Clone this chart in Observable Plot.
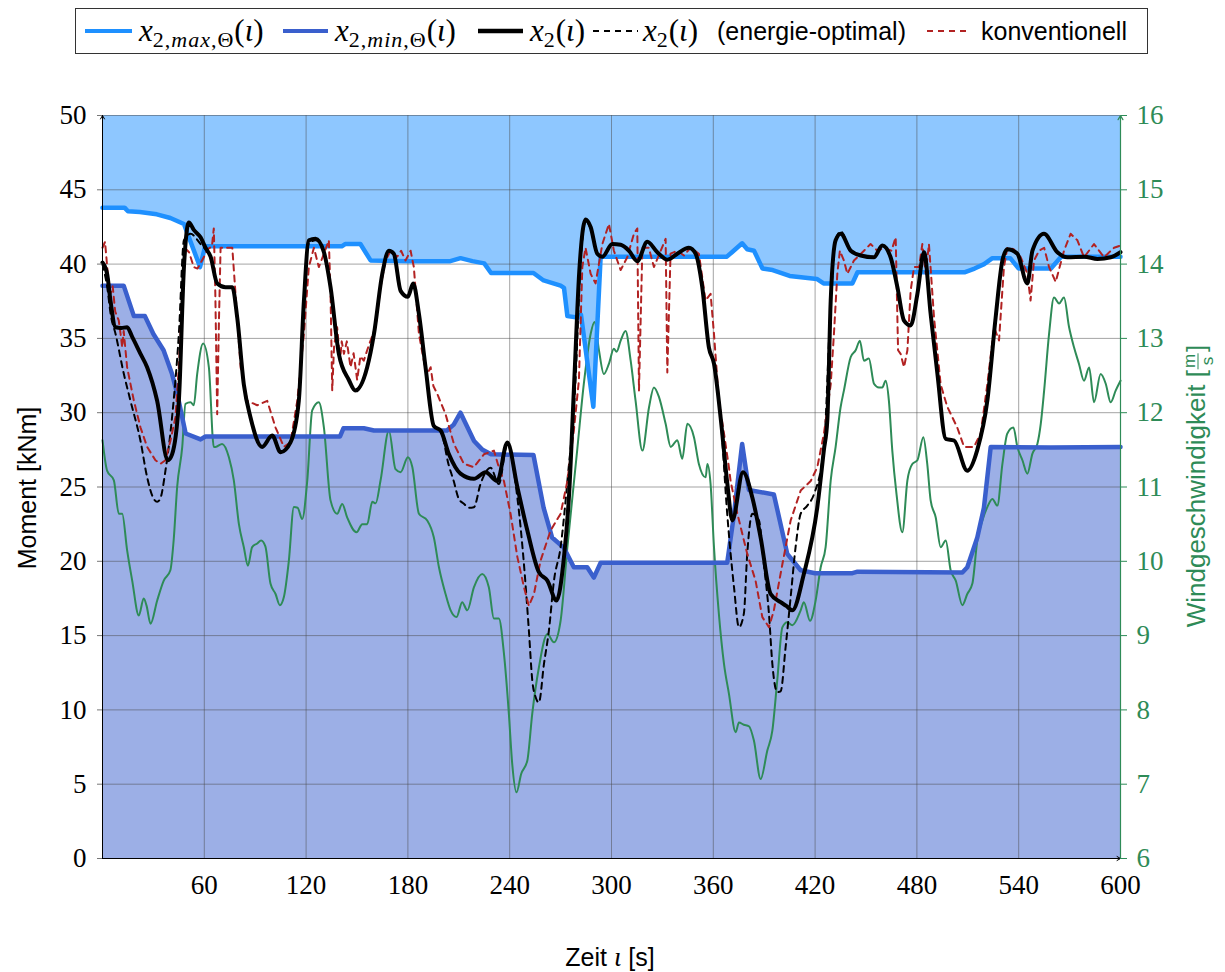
<!DOCTYPE html>
<html>
<head>
<meta charset="utf-8">
<script src="https://cdn.jsdelivr.net/npm/d3@7"></script>
<script src="https://cdn.jsdelivr.net/npm/@observablehq/plot@0.6"></script>
<style>
  body { margin: 0; background: #fff; }
  #page { position: relative; width: 1225px; height: 972px; overflow: hidden; }
  #legendArea { height: 62px; position: relative; }
  #legend { position: absolute; left: 75px; top: 8px; width: 1071px; height: 44px; border: 1px solid #333; background: #fff; }
  .key { position: absolute; top: 15px; }
  .lab { position: absolute; top: 0; line-height: 44px; white-space: nowrap; font-family: "Liberation Sans", Arial, sans-serif; font-size: 25px; color: #000; }
  .m { font-family: "Liberation Serif", serif; font-size: 31px; }
  .m i { font-style: italic; }
  .m sub { font-size: 22px; vertical-align: -6px; line-height: 0; letter-spacing: 1px; }
  .title { position: absolute; white-space: nowrap; font-family: "Liberation Sans", Arial, sans-serif; font-size: 25px; color: #000; transform: translate(-50%, -50%); }
  .rot { transform: translate(-50%, -50%) rotate(-90deg); }
  .frac { display: inline-flex; flex-direction: column; align-items: center; vertical-align: middle; font-size: 17px; line-height: 17px; margin: 0 1px; }
  .frac span:first-child { border-bottom: 1.2px solid currentColor; padding: 0 1px; }
</style>
</head>
<body>
<div id="page">
  <div id="legendArea">
    <div id="legend">
      <svg class="key" style="left:9px" width="47" height="14"><line x1="0" x2="47" y1="7" y2="7" stroke="#1e90ff" stroke-width="4"/></svg>
      <div class="lab m" style="left:63px"><i>x</i><sub>2,<i>max</i>,Θ</sub>(<i>ι</i>)</div>
      <svg class="key" style="left:207px" width="45" height="14"><line x1="0" x2="45" y1="7" y2="7" stroke="#3a5fcd" stroke-width="4"/></svg>
      <div class="lab m" style="left:259px"><i>x</i><sub>2,<i>min</i>,Θ</sub>(<i>ι</i>)</div>
      <svg class="key" style="left:402px" width="45" height="14"><line x1="0" x2="45" y1="7" y2="7" stroke="#000" stroke-width="4.5"/></svg>
      <div class="lab m" style="left:454px"><i>x</i><sub>2</sub>(<i>ι</i>)</div>
      <svg class="key" style="left:517px" width="45" height="14"><line x1="0" x2="45" y1="7" y2="7" stroke="#000" stroke-width="2" stroke-dasharray="6,5"/></svg>
      <div class="lab m" style="left:567px"><i>x</i><sub>2</sub>(<i>ι</i>)</div>
      <div class="lab" style="left:641px">(energie-optimal)</div>
      <svg class="key" style="left:851px" width="44" height="14"><line x1="0" x2="44" y1="7" y2="7" stroke="#b22222" stroke-width="2" stroke-dasharray="6,5"/></svg>
      <div class="lab" style="left:905px">konventionell</div>
    </div>
  </div>
  <div id="chart"></div>
  <div class="title rot" style="left:27px; top:488px;">Moment [kNm]</div>
  <div class="title rot" style="left:1198px; top:486px; color:#2e8b57; font-size:26px;">Windgeschwindigkeit [<span class="frac"><span>m</span><span>s</span></span>]</div>
  <div class="title" style="left:610px; top:957px;">Zeit <span style="font-family:'Liberation Serif',serif; font-style:italic; font-size:27px;">ι</span> [s]</div>
</div>
<script>
// Axis ticks
const timeTicks = [60, 120, 180, 240, 300, 360, 420, 480, 540, 600];
const momentTicks = [0, 5, 10, 15, 20, 25, 30, 35, 40, 45, 50];
const windTicks = [6, 7, 8, 9, 10, 11, 12, 13, 14, 15, 16];

// Upper torque bound x2,max,Θ [s, kNm]
const upperBound = [
  [0,43.8],[13,43.8],[15,43.55],[22,43.5],[32,43.35],[40,43.1],[48,42.7],[57.5,39.8],[60.5,41.2],
  [100,41.2],[141,41.2],[143,41.35],[152,41.35],[158,40.25],[180,40.2],[205,40.2],[211,40.4],
  [218,40.2],[225,40.05],[229,39.4],[254,39.4],[260,38.9],[270,38.55],[272,38.4],[274,36.5],
  [280,36.4],[282,36.6],[289.3,30.4],[293.6,40.5],[368,40.5],[371,40.8],[377,41.4],[380,41.0],
  [384,40.9],[389,39.7],[395,39.6],[405,39.2],[421,39.0],[425,38.7],[442,38.7],[445,39.45],
  [508,39.45],[514,39.7],[519.6,40.0],[524.5,40.4],[535,40.4],[540,39.7],[559,39.7],[565,40.5],[600,40.5]
];

// Lower torque bound x2,min,Θ [s, kNm]
const lowerBound = [
  [0,38.55],[12.5,38.55],[18.5,36.5],[25,36.5],[30,35.3],[36,34.2],[41,32.6],[44,31.3],[49,28.6],
  [57.8,28.2],[60.7,28.4],[140,28.4],[142,28.95],[154,28.95],[160,28.8],[203,28.8],[207,29.2],
  [211,30.0],[219,28.1],[224,27.5],[229,27.2],[254,27.15],[260,23.6],[265,21.6],[272,20.9],
  [277.8,19.6],[285.7,19.6],[289.6,18.9],[293.6,19.9],[368.2,19.9],[372,23.0],[377,27.9],
  [381,24.8],[395.7,24.5],[403.6,20.5],[411.5,19.4],[420,19.2],[442,19.2],[445,19.3],
  [506.8,19.25],[509.7,19.6],[515.6,21.6],[519.5,23.6],[523.5,27.7],[559,27.65],[600,27.7]
];

// Torque x2 of the controller [s, kNm]
const torque = [
  [0,40.1],[2.7,39.35],[4.7,37.55],[7.7,35.75],[11,35.7],[14.5,35.75],[17.5,35.1],[22.4,33.96],
  [26.3,33.06],[32.2,30.8],[38.5,26.8],[41,27.2],[45,30.8],[48,39.8],[50.9,42.8],[53.8,42.3],
  [57.8,41.8],[60.7,41.1],[63.7,40.5],[67.6,38.7],[72.5,38.45],[76.5,38.45],[79.4,36.4],
  [83.3,31.9],[87.2,29.7],[94.1,27.7],[100,28.46],[105,27.34],[110.8,28.0],[115.7,30.8],
  [118.7,37.5],[121.6,41.6],[125.6,41.7],[130.5,40.8],[134.4,38.45],[139.3,33.96],[145.2,32.2],
  [149,31.5],[156,33.06],[160,35.3],[164.9,39.35],[168.8,40.9],[171.7,40.7],[175.7,38.2],
  [180,37.8],[183.1,38.7],[186.5,36.65],[190.4,33.06],[195.3,29.1],[199.3,28.8],[204.2,27.2],
  [211,25.9],[218.9,25.55],[225.8,26.0],[232.7,25.4],[238.6,28.0],[244.5,25.0],[250.4,22.07],
  [257.2,19.27],[262.2,18.7],[267.6,17.36],[272,20.3],[275,24.5],[278,32.0],[281,39.5],
  [284.7,43.0],[287.7,42.5],[291.6,40.7],[294.6,40.5],[300.5,41.35],[305.4,41.3],[310.3,40.9],
  [315.2,40.2],[321.1,41.5],[327,40.8],[332.9,40.3],[338.8,40.7],[345.6,41.1],[349.6,40.7],
  [353.5,38.45],[357.4,34.4],[360.4,33.3],[364.3,29.7],[368.3,25.2],[371.2,22.75],[377.5,26.0],
  [383,24.3],[387.9,21.6],[393.8,17.8],[399.7,17.25],[403,17.0],[406.6,16.7],[413.4,19.16],
  [421.3,23.64],[425.2,27.5],[427.2,29.5],[429.2,37.55],[432.1,41.6],[435.1,42.04],[441,40.9],
  [446.9,40.58],[454.7,40.46],[459.6,41.25],[464.5,40.46],[468.5,38.45],[472.4,36.2],
  [476.3,35.87],[480.3,38.0],[484.2,40.8],[488.1,36.65],[492.1,32.6],[497,28.24],[501.9,28.13],
  [509.7,26.1],[515.6,27.5],[521.5,30.8],[526.4,36.4],[530.4,40.24],[533.3,41.0],[539.2,40.7],
  [545.1,38.7],[548.1,40.9],[554.9,42.04],[562.8,40.8],[568.7,40.46],[578.6,40.5],[586.4,40.35],
  [594.3,40.46],[600,40.8]
];

// Energy-optimal torque x2 [s, kNm]
const torqueOptimal = [
  [0,40.0],[2.7,38.5],[5,36.5],[7.7,35.3],[12.6,32.6],[16.5,30.8],[22.4,28.1],[26.3,25.66],
  [30.2,24.2],[32.2,24.0],[34,24.2],[37.1,26.1],[41,29.7],[45,35.3],[48,41.6],[51.9,42.04],
  [57.8,41.35],[60.7,41.0],[63.7,40.5],[67.6,38.7],[72.5,38.45],[76.5,38.45],[79.4,36.4],
  [83.3,31.9],[87.2,29.7],[94.1,27.7],[100,28.46],[105,27.34],[110.8,28.0],[115.7,30.8],
  [118.7,37.5],[121.6,41.4],[125.6,41.6],[130.5,40.8],[134.4,38.45],[139.3,33.96],[145.2,32.2],
  [149,31.4],[156,33.06],[160,35.3],[164.9,39.35],[168.8,40.9],[171.7,40.7],[175.7,38.2],
  [180,37.8],[183.1,38.7],[186.5,36.65],[190.4,33.06],[195.3,29.1],[199.3,28.8],[204,26.5],
  [207,25.4],[210,24.2],[213,23.87],[216,23.6],[218.9,23.64],[222.8,25.2],[228.7,26.3],
  [233.6,25.2],[238.6,27.9],[244.5,24.3],[248.4,19.8],[251.3,15.34],[253.3,12.0],[255.3,10.85],
  [257.2,10.5],[260.2,13.1],[263.1,15.34],[266.1,18.7],[270,20.95],[274,25.4],[278.8,32.2],
  [281.5,39.5],[284.7,42.9],[287.7,42.4],[291.6,40.7],[294.6,40.5],[300.5,41.3],[305.4,41.3],
  [310.3,40.9],[315.2,40.2],[321.1,41.5],[327,40.8],[332.9,40.3],[338.8,40.7],[345.6,41.1],
  [349.6,40.7],[353.5,38.45],[357.4,34.4],[360.4,33.3],[364.3,29.7],[368.2,23.2],[372.2,18.26],
  [375.1,15.57],[378,16.47],[380,20.5],[383,23.2],[386.9,22.75],[389.8,19.8],[392.8,16.47],
  [394.8,13.1],[397.7,11.2],[399.7,11.25],[402.6,14.2],[405.6,17.6],[408.5,20.95],[411.5,23.2],
  [415.4,23.75],[419.3,24.5],[425.2,27.7],[429.2,37.3],[432.1,41.6],[435.1,42.2],[441,40.9],
  [446.9,40.58],[454.7,40.46],[459.6,41.25],[464.5,40.46],[468.5,38.45],[472.4,36.2],
  [476.3,35.87],[480.3,38.0],[484.2,40.8],[488.1,36.65],[492.1,32.6],[497,28.24],[501.9,28.13],
  [509.7,26.1],[515.6,27.5],[521.5,30.8],[526.4,36.4],[530.4,40.24],[533.3,41.0],[539.2,40.7],
  [545.1,38.7],[548.1,40.9],[554.9,42.04],[562.8,40.8],[568.7,40.46],[578.6,40.5],[586.4,40.35],
  [594.3,40.46],[600,40.8]
];

// Torque of the conventional controller [s, kNm]
const torqueConventional = [
  [0,41.1],[1.5,41.5],[3,39.5],[4.7,38.0],[6,38.5],[7.5,36.8],[9.6,36.2],[11,35.0],[11.6,34.4],
  [12.5,35.5],[14.5,33.06],[18.5,30.8],[22.4,29.0],[26.3,27.7],[31.2,26.8],[34.2,26.56],[37.1,26.8],
  [40,28.1],[43,29.7],[45,33.06],[47,37.55],[48.5,41.1],[51,40.8],[53.8,39.8],[56,39.7],
  [59.7,40.46],[62,41.0],[64.5,41.2],[65.6,42.4],[66.5,38.0],[67.6,29.9],[68.6,36.0],[69.6,41.1],
  [73.5,41.1],[76.5,41.1],[78.4,38.0],[81.4,33.06],[85.3,30.8],[91.2,30.5],[97.1,30.8],[102,29.0],
  [106.9,27.7],[110.8,28.0],[114.8,30.8],[118.7,35.3],[121.6,39.8],[124.6,41.1],[127.5,39.8],
  [130.5,40.7],[133.4,41.6],[134.4,38.0],[135.4,31.5],[136.5,34.5],[138.3,35.75],[140,33.5],
  [141,34.8],[142.3,33.96],[144,34.8],[146.2,33.06],[148,34.0],[150.1,32.2],[152,33.8],[154,33.5],
  [156,34.2],[158,34.86],[160.9,35.75],[163.9,38.45],[166.8,40.24],[169.8,40.9],[173.7,40.5],
  [176,40.9],[178.6,40.24],[181.6,40.9],[183.5,39.8],[186.5,35.3],[189.4,33.5],[191,32.5],
  [193.4,33.06],[195,31.8],[197.3,31.27],[202.2,29.9],[207.1,27.9],[213,26.56],[218.9,26.33],
  [224.8,27.2],[230.7,27.45],[233.6,26.33],[236.6,25.4],[240.5,23.2],[244.5,20.3],[248.4,18.26],
  [251.3,17.0],[254.3,17.8],[258.2,20.05],[264.1,22.07],[270,23.2],[274,25.4],[277.8,28.8],
  [280.8,32.2],[282.8,39.8],[284.7,41.1],[287.7,39.35],[290.6,38.7],[294.6,41.35],[298.5,42.7],
  [301.4,40.9],[305.4,39.6],[309.3,40.46],[313.2,42.04],[315.2,42.4],[316.2,31.5],[318.2,41.1],
  [322,41.1],[325,39.8],[329,40.9],[331.9,41.7],[332.9,32.7],[334.8,40.7],[338.8,40.9],
  [342.7,40.58],[346.6,41.1],[351.5,40.7],[353,39.5],[355.4,37.55],[358.4,38.0],[360.4,35.3],
  [363.3,30.8],[366.3,28.6],[369.2,26.33],[370.2,25.4],[374.2,23.2],[380,20.5],[384.9,18.7],
  [388.9,16.24],[392.8,15.57],[395.7,16.7],[400.7,19.8],[405.6,22.75],[411.5,24.76],[417.4,25.4],
  [421.3,26.33],[425.2,28.6],[429.2,31.9],[431.1,35.3],[433.1,39.35],[434.6,40.9],[437,40.24],
  [439,39.35],[442.9,40.24],[448.8,40.9],[452.7,41.35],[456.7,40.9],[460.6,41.1],[465,40.9],
  [467.5,41.8],[468.9,34.2],[470.4,33.96],[472.4,33.06],[474.4,34.2],[476.3,38.2],[478.3,39.8],
  [481.3,39.8],[483.2,41.35],[485.2,39.35],[487.1,41.35],[490.1,36.4],[494,31.9],[497.9,30.4],
  [503.8,29.0],[507.8,27.7],[513.6,27.7],[517.6,28.6],[521.5,31.9],[525.5,35.75],[528.4,34.86],
  [531.3,39.8],[533.3,41.1],[537,41.0],[541.2,40.46],[545.1,39.35],[547,37.55],[549,40.24],
  [552,40.9],[555,41.1],[557.9,39.8],[561.8,38.8],[566.7,40.9],[570.6,42.04],[574.6,41.6],
  [578.5,40.46],[584.4,41.35],[590.3,40.46],[596.2,41.1],[600,41.25]
];

// Wind speed [s, m/s] (right axis)
const windSpeed = [
  [0,11.63],[2.7,11.22],[6.7,11.09],[9.6,10.64],[11.6,10.64],[14.5,10.15],[17.5,9.74],[21.4,9.27],
  [24.3,9.5],[26,9.4],[28.3,9.16],[32.2,9.47],[36.1,9.74],[40,9.88],[42,10.3],[44,11.0],[47,11.54],
  [48.9,12.12],[51.9,12.14],[53.8,12.1],[55.8,12.52],[59.3,12.93],[62.7,12.61],[65.6,11.54],
  [66.6,11.54],[70.5,11.58],[74.5,11.4],[77.4,11.09],[80.4,10.5],[83.3,10.19],[85.7,9.94],
  [88.2,10.19],[91.2,10.24],[93.5,10.28],[96,10.2],[99,9.7],[102,9.56],[104.5,9.41],[106.9,9.52],
  [109.8,10.0],[112.8,10.73],[115,10.72],[117.7,10.57],[120.7,11.09],[123.6,12.03],[127.5,12.14],
  [130.5,11.8],[134.4,10.82],[138.3,10.64],[141.3,10.77],[144.2,10.59],[149.7,10.39],[153.1,10.5],
  [156,10.5],[159,10.8],[161,10.78],[163.9,11.09],[168.8,11.76],[172.7,11.24],[175.7,11.2],
  [180,11.4],[182.6,11.27],[186.5,10.64],[191.4,10.55],[195.3,10.32],[198.3,9.92],[202.2,9.56],
  [205.2,9.34],[208.7,9.25],[212,9.45],[215,9.34],[218.9,9.65],[223.8,9.83],[227.7,9.65],
  [230.7,9.23],[233.6,9.23],[236.6,8.76],[239.5,7.95],[241.5,7.27],[244,6.89],[246.8,7.14],
  [250.4,7.32],[253.3,7.95],[257.2,8.57],[262.2,9.02],[266.1,8.91],[270,9.2],[274,10.19],
  [279.8,11.5],[283.7,12.39],[287.7,13.06],[290,13.22],[292.6,12.84],[295.5,12.52],[298.5,12.66],
  [301.4,12.86],[303,12.82],[305.4,12.97],[308.3,13.1],[311.3,12.7],[314.2,12.16],[318.2,11.49],
  [322.1,12.07],[325,12.34],[328,12.21],[331.9,11.85],[334.9,11.54],[338.8,11.63],[341.7,11.38],
  [344.7,11.85],[348.6,11.67],[351.5,11.31],[355.5,11.13],[356.5,11.31],[358.4,11.04],[360.4,10.19],
  [363.3,9.29],[366.3,8.62],[369.2,8.22],[373.2,7.7],[375.1,7.83],[378,7.8],[381,7.78],[383.9,7.59],
  [387.9,7.07],[391.8,7.45],[394.8,7.72],[397.7,8.4],[400.7,9.11],[403.6,9.18],[406.6,9.14],
  [411.5,9.34],[413.4,9.45],[417,9.2],[420.3,9.47],[423.3,9.92],[426.2,10.19],[429.2,11.09],
  [432.1,11.54],[435,12.07],[437,12.3],[441,12.75],[443.9,12.84],[446.4,12.97],[448.8,12.7],
  [451.7,12.73],[454.7,12.39],[457.6,12.34],[459.6,12.34],[461.6,12.43],[463.5,12.16],[465.5,11.49],
  [468,10.9],[471.4,10.39],[474.4,11.09],[477.3,11.31],[480.3,11.36],[483.8,11.67],[486.1,11.31],
  [488.1,10.82],[491.1,10.59],[494,10.19],[497,10.28],[499.9,9.88],[502.9,9.74],[506.8,9.41],
  [509.7,9.56],[512.7,9.7],[515.6,10.28],[518.6,10.55],[521.5,10.73],[524.5,10.84],[527.4,10.75],
  [530.4,11.31],[533.3,11.72],[536.9,11.8],[539.2,11.54],[542.2,11.36],[545.1,11.18],[548.1,11.45],
  [551,11.58],[553,11.85],[555,12.3],[557.9,13.06],[560.8,13.55],[563.8,13.47],[566.7,13.55],
  [569.7,13.15],[572.6,12.88],[575.5,12.66],[578.5,12.43],[581.5,12.61],[584.4,12.14],[588.3,12.52],
  [591.3,12.39],[594.2,12.14],[597.2,12.3],[600,12.43]
];

const rows = (pairs) => pairs.map(([t, v]) => ({t, v}));
// wind speed range 6..16 m/s shares the plot height with 0..50 kNm
const windToMoment = (w) => (w - 6) * 5;

const green = "#2e8b57";
const chart = Plot.plot({
  width: 1225,
  height: 910,
  marginTop: 53,
  marginBottom: 114,
  marginLeft: 102,
  marginRight: 105,
  x: {domain: [0, 600]},
  y: {domain: [0, 50]},
  style: {fontFamily: "'Liberation Serif', serif", fontSize: "27px", color: "#000", background: "transparent", overflow: "visible"},
  marks: [
    Plot.areaY(rows(upperBound), {x: "t", y1: "v", y2: () => 50, fill: "#1e90ff", fillOpacity: 0.5}),
    Plot.areaY(rows(lowerBound), {x: "t", y1: 0, y2: "v", fill: "#3a5fcd", fillOpacity: 0.5}),
    Plot.gridY(momentTicks, {stroke: "#4a4a4a", strokeOpacity: 0.5}),
    Plot.gridX(timeTicks, {stroke: "#4a4a4a", strokeOpacity: 0.5}),
    Plot.line(rows(windSpeed), {x: "t", y: (d) => windToMoment(d.v), stroke: green, strokeWidth: 2, curve: "monotone-x"}),
    Plot.line(rows(upperBound), {x: "t", y: "v", stroke: "#1e90ff", strokeWidth: 4.5}),
    Plot.line(rows(lowerBound), {x: "t", y: "v", stroke: "#3a5fcd", strokeWidth: 4.5}),
    Plot.line(rows(torqueOptimal), {x: "t", y: "v", stroke: "#000", strokeWidth: 2, strokeDasharray: "6,5", curve: "monotone-x"}),
    Plot.line(rows(torqueConventional), {x: "t", y: "v", stroke: "#b22222", strokeWidth: 2, strokeDasharray: "6,5"}),
    Plot.line(rows(torque), {x: "t", y: "v", stroke: "#000", strokeWidth: 4, curve: "monotone-x"}),
    Plot.axisY(momentTicks, {anchor: "left", tickSize: 5, tickPadding: 11, stroke: "#777", label: null}),
    Plot.axisX(timeTicks, {anchor: "bottom", tickSize: 0, tickPadding: 16, label: null}),
    Plot.axisY(windTicks.map(windToMoment), {anchor: "right", tickSize: 6, tickPadding: 10, stroke: green, fill: green, tickFormat: (v) => String(v / 5 + 6), label: null}),
    Plot.arrow([0], {x1: 0, y1: 0, x2: 0, y2: 50, stroke: "#000", strokeWidth: 1, headLength: 6}),
    Plot.arrow([0], {x1: 0, y1: 0, x2: 600, y2: 0, stroke: "#000", strokeWidth: 1, headLength: 6}),
    Plot.arrow([0], {x1: 600, y1: 0, x2: 600, y2: 50, stroke: green, strokeWidth: 1.2, headLength: 6})
  ]
});
document.getElementById("chart").appendChild(chart);
</script>
</body>
</html>
